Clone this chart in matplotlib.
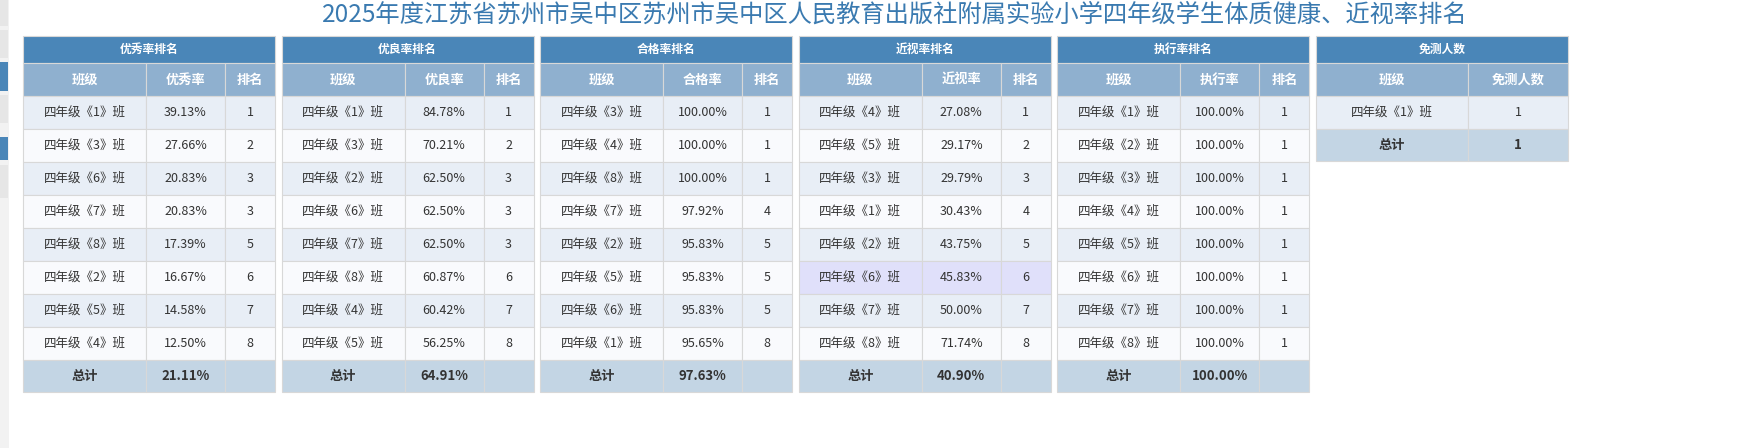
import matplotlib
matplotlib.use('Agg')
from matplotlib import pyplot as plt
import matplotlib.patches as patches

plt.rcParams['font.family'] = ['Noto Sans CJK SC', 'DejaVu Sans']

# ---DATA---
title = '2025年度江苏省苏州市吴中区苏州市吴中区人民教育出版社附属实验小学四年级学生体质健康、近视率排名'

yx_class = ['四年级《1》班', '四年级《3》班', '四年级《6》班', '四年级《7》班', '四年级《8》班', '四年级《2》班', '四年级《5》班', '四年级《4》班']
yx_rate = ['39.13%', '27.66%', '20.83%', '20.83%', '17.39%', '16.67%', '14.58%', '12.50%']
yx_rank = [1, 2, 3, 3, 5, 6, 7, 8]

yl_class = ['四年级《1》班', '四年级《3》班', '四年级《2》班', '四年级《6》班', '四年级《7》班', '四年级《8》班', '四年级《4》班', '四年级《5》班']
yl_rate = ['84.78%', '70.21%', '62.50%', '62.50%', '62.50%', '60.87%', '60.42%', '56.25%']
yl_rank = [1, 2, 3, 3, 3, 6, 7, 8]

hg_class = ['四年级《3》班', '四年级《4》班', '四年级《8》班', '四年级《7》班', '四年级《2》班', '四年级《5》班', '四年级《6》班', '四年级《1》班']
hg_rate = ['100.00%', '100.00%', '100.00%', '97.92%', '95.83%', '95.83%', '95.83%', '95.65%']
hg_rank = [1, 1, 1, 4, 5, 5, 5, 8]

js_class = ['四年级《4》班', '四年级《5》班', '四年级《3》班', '四年级《1》班', '四年级《2》班', '四年级《6》班', '四年级《7》班', '四年级《8》班']
js_rate = ['27.08%', '29.17%', '29.79%', '30.43%', '43.75%', '45.83%', '50.00%', '71.74%']
js_rank = [1, 2, 3, 4, 5, 6, 7, 8]

zx_class = ['四年级《%d》班' % i for i in range(1, 9)]
zx_rate = ['100.00%'] * 8
zx_rank = [1] * 8

mc_class = ['四年级《1》班']
mc_count = [1]

tables = [
    ('优秀率排名', '优秀率', yx_class, yx_rate, yx_rank, '21.11%'),
    ('优良率排名', '优良率', yl_class, yl_rate, yl_rank, '64.91%'),
    ('合格率排名', '合格率', hg_class, hg_rate, hg_rank, '97.63%'),
    ('近视率排名', '近视率', js_class, js_rate, js_rank, '40.90%'),
    ('执行率排名', '执行率', zx_class, zx_rate, zx_rank, '100.00%'),
]

# ---STYLE---
C_TITLE = '#4a86b8'
C_HEAD = '#8fb0cf'
C_ROW = ['#e8eef6', '#f9fafd']
C_TOTAL = '#c3d5e4'
C_HL = '#e0e0fa'
C_GRID = '#d8d8d8'
C_TXT = '#333333'

fig = plt.figure(figsize=(17.6, 4.48), dpi=100)
ax = fig.add_axes([0, 0, 1, 1])
ax.set_xlim(0, 1760)
ax.set_ylim(448, 0)
ax.axis('off')

# left sidebar stub
ax.add_patch(patches.Rectangle((0, 0), 9, 448, fc='#f2f2f2', ec='none'))
for y0, y1, c in [(0, 28, '#e6e6e6'), (30, 60, '#e6e6e6'), (62, 93, '#4a86b8'),
                  (95, 125, '#e6e6e6'), (137, 162, '#4a86b8'), (165, 200, '#e6e6e6')]:
    ax.add_patch(patches.Rectangle((0, y0), 8, y1 - y0 - 2, fc=c, ec='none'))

ax.text(895, 15, title, ha='center', va='center', fontsize=17.5, color='#3a7ab0')

Y_TOP, H_TITLE, H_HEAD, H_ROW = 36, 27, 33, 33


def cell(x, y, w, h, fc, txt='', bold=False, color=C_TXT, size=9):
    ax.add_patch(patches.Rectangle((x, y), w, h, fc=fc, ec=C_GRID, lw=0.8))
    if txt != '':
        ax.text(x + w / 2, y + h / 2, str(txt), ha='center', va='center',
                fontsize=size, color=color, fontweight='bold' if bold else 'normal')


def draw_table(x0, widths, name, cols, rows, total, hl=None):
    W = sum(widths)
    cell(x0, Y_TOP, W, H_TITLE, C_TITLE, name, True, 'white', 8.5)
    y = Y_TOP + H_TITLE
    xs = [x0 + sum(widths[:i]) for i in range(len(widths))]
    for xi, wi, c in zip(xs, widths, cols):
        cell(xi, y, wi, H_HEAD, C_HEAD, c, True, 'white', 9.5)
    y += H_HEAD
    for r, row in enumerate(rows):
        fc = C_HL if r == hl else C_ROW[r % 2]
        for xi, wi, v in zip(xs, widths, row):
            cell(xi, y, wi, H_ROW, fc, v)
        y += H_ROW
    for xi, wi, v in zip(xs, widths, total):
        cell(xi, y, wi, H_ROW - 1, C_TOTAL, v, True, C_TXT, 9.5)


x = 23
for name, col, cls, rate, rank, tot in tables:
    hl = 5 if name == '近视率排名' else None
    draw_table(x, [123, 79, 50], name, ['班级', col, '排名'],
               list(zip(cls, rate, rank)), ['总计', tot, ''], hl)
    x += 258.6

draw_table(1316, [152, 100], '免测人数', ['班级', '免测人数'],
           list(zip(mc_class, mc_count)), ['总计', sum(mc_count)])

fig.savefig('out.png', dpi=100)
